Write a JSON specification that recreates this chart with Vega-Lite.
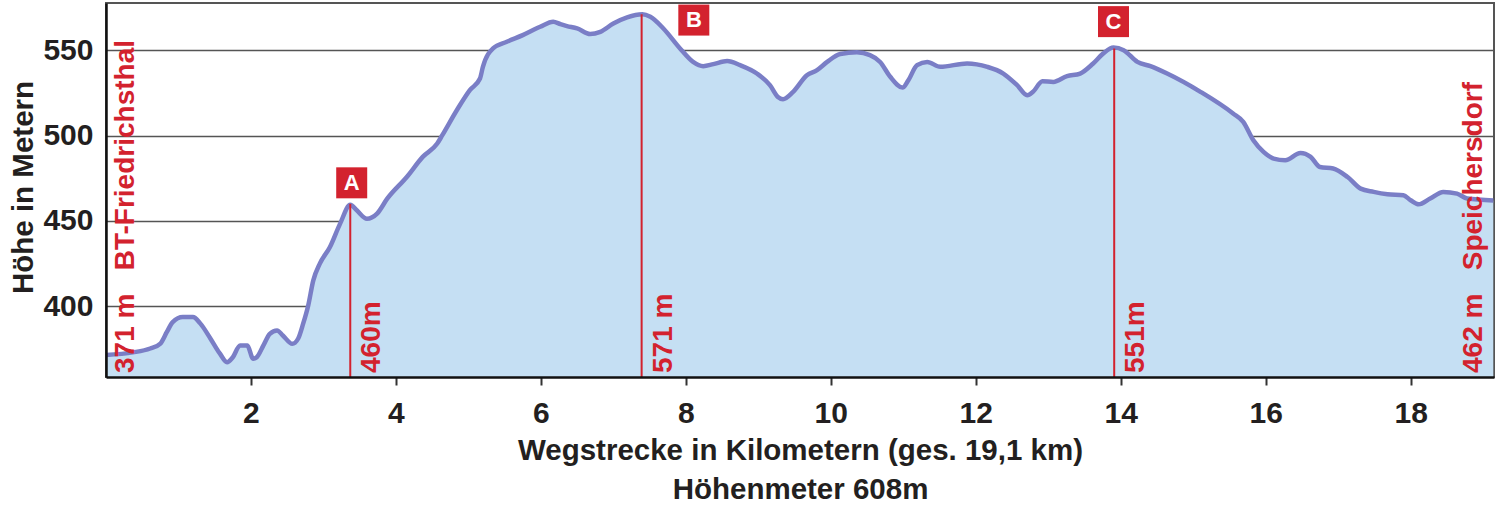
{
  "$schema": "https://vega.github.io/schema/vega-lite/v6.json",
  "width": 1388,
  "height": 374,
  "autosize": {"type": "none"},
  "padding": {"left": 106, "top": 3, "right": 6, "bottom": 129},
  "background": "white",
  "config": {
    "font": "Liberation Sans, Arial, sans-serif",
    "view": {"stroke": "#555555", "strokeWidth": 2}
  },
  "datasets": {
    "profile": [
      {"km": 0, "elev": 371.5}, {"km": 0.37, "elev": 373}, {"km": 0.61, "elev": 375.3}, {"km": 0.75, "elev": 378.2},
      {"km": 0.84, "elev": 385}, {"km": 0.92, "elev": 390.7}, {"km": 1.06, "elev": 393.7}, {"km": 1.2, "elev": 393.7},
      {"km": 1.3, "elev": 390}, {"km": 1.44, "elev": 381.2}, {"km": 1.57, "elev": 372.4}, {"km": 1.67, "elev": 367.3},
      {"km": 1.75, "elev": 370.2}, {"km": 1.85, "elev": 377.1}, {"km": 1.95, "elev": 377}, {"km": 2.03, "elev": 369.3},
      {"km": 2.08, "elev": 370.2}, {"km": 2.17, "elev": 377}, {"km": 2.26, "elev": 383.9}, {"km": 2.36, "elev": 385.9},
      {"km": 2.44, "elev": 382.9}, {"km": 2.57, "elev": 378}, {"km": 2.65, "elev": 381}, {"km": 2.72, "elev": 389.8},
      {"km": 2.79, "elev": 400.5}, {"km": 2.86, "elev": 415.2}, {"km": 2.95, "elev": 425}, {"km": 3.09, "elev": 434.7},
      {"km": 3.23, "elev": 448.4}, {"km": 3.37, "elev": 459.5}, {"km": 3.46, "elev": 456.2}, {"km": 3.6, "elev": 451.3},
      {"km": 3.74, "elev": 454.3}, {"km": 3.88, "elev": 463}, {"km": 4.15, "elev": 475.7}, {"km": 4.37, "elev": 487.5},
      {"km": 4.57, "elev": 495.3}, {"km": 4.64, "elev": 500.2}, {"km": 4.84, "elev": 514.8}, {"km": 5.02, "elev": 526.6},
      {"km": 5.16, "elev": 533.4}, {"km": 5.2, "elev": 540.2}, {"km": 5.34, "elev": 551}, {"km": 5.53, "elev": 554.9},
      {"km": 5.75, "elev": 558.8}, {"km": 5.99, "elev": 563.7}, {"km": 6.17, "elev": 566.6}, {"km": 6.27, "elev": 565.2},
      {"km": 6.36, "elev": 564.1}, {"km": 6.5, "elev": 562.7}, {"km": 6.68, "elev": 559.4}, {"km": 6.82, "elev": 560.7},
      {"km": 7.0, "elev": 565.6}, {"km": 7.19, "elev": 569.2}, {"km": 7.4, "elev": 571}, {"km": 7.51, "elev": 569.5},
      {"km": 7.69, "elev": 562.7}, {"km": 7.92, "elev": 551}, {"km": 8.1, "elev": 543.1}, {"km": 8.24, "elev": 540.6},
      {"km": 8.38, "elev": 541.8}, {"km": 8.57, "elev": 543.6}, {"km": 8.75, "elev": 541.2}, {"km": 8.98, "elev": 536.3},
      {"km": 9.16, "elev": 529.5}, {"km": 9.27, "elev": 522.6}, {"km": 9.34, "elev": 521.3}, {"km": 9.48, "elev": 525.6},
      {"km": 9.67, "elev": 535.3}, {"km": 9.81, "elev": 538.3}, {"km": 9.95, "elev": 543.1}, {"km": 10.13, "elev": 547.7},
      {"km": 10.36, "elev": 548.7}, {"km": 10.54, "elev": 547.1}, {"km": 10.68, "elev": 543.1}, {"km": 10.82, "elev": 534.4},
      {"km": 10.99, "elev": 528.1}, {"km": 11.07, "elev": 532.4}, {"km": 11.19, "elev": 541.2}, {"km": 11.33, "elev": 543.1},
      {"km": 11.51, "elev": 540.2}, {"km": 11.88, "elev": 542.2}, {"km": 12.16, "elev": 540.2}, {"km": 12.38, "elev": 536.3},
      {"km": 12.57, "elev": 529.5}, {"km": 12.71, "elev": 523.6}, {"km": 12.79, "elev": 525.6}, {"km": 12.92, "elev": 531.8},
      {"km": 13.07, "elev": 531.4}, {"km": 13.26, "elev": 534.8}, {"km": 13.44, "elev": 536.3}, {"km": 13.62, "elev": 542.2},
      {"km": 13.76, "elev": 548.1}, {"km": 13.9, "elev": 551.5}, {"km": 14.04, "elev": 550}, {"km": 14.23, "elev": 543.1},
      {"km": 14.41, "elev": 540.6}, {"km": 14.64, "elev": 536.3}, {"km": 15.1, "elev": 525.6}, {"km": 15.55, "elev": 512.9},
      {"km": 15.69, "elev": 508}, {"km": 15.83, "elev": 497.2}, {"km": 15.97, "elev": 490.4}, {"km": 16.11, "elev": 486.5},
      {"km": 16.27, "elev": 485.5}, {"km": 16.48, "elev": 489.8}, {"km": 16.62, "elev": 487.5}, {"km": 16.75, "elev": 481.6},
      {"km": 16.93, "elev": 480.7}, {"km": 17.13, "elev": 475.7}, {"km": 17.31, "elev": 468.9}, {"km": 17.49, "elev": 467},
      {"km": 17.68, "elev": 465.6}, {"km": 17.9, "elev": 465}, {"km": 18.0, "elev": 462.1}, {"km": 18.11, "elev": 459.7},
      {"km": 18.27, "elev": 463.1}, {"km": 18.45, "elev": 467}, {"km": 18.64, "elev": 466}, {"km": 18.78, "elev": 463.1},
      {"km": 19.14, "elev": 462}
    ],
    "markers": [
      {"km": 3.37, "elev": 460, "label": "460m", "letter": "A", "boxKm": 3.39, "boxElev": 472.3},
      {"km": 7.39, "elev": 571, "label": "571 m", "letter": "B", "boxKm": 8.11, "boxElev": 567.6},
      {"km": 13.91, "elev": 551, "label": "551m", "letter": "C", "boxKm": 13.9, "boxElev": 566.7}
    ],
    "ends": [
      {"km": 0, "label": "371 m\u00a0\u00a0\u00a0BT-Friedrichsthal", "side": "start"},
      {"km": 19.15, "label": "462 m\u00a0\u00a0\u00a0Speichersdorf", "side": "end"}
    ]
  },
  "resolve": {"axis": {"y": "independent"}},
  "layer": [
    {
      "data": {"name": "profile"},
      "mark": {"type": "area", "color": "#c5dff3", "interpolate": "monotone", "opacity": 1},
      "encoding": {
        "x": {
          "field": "km", "type": "quantitative",
          "scale": {"domain": [0, 19.15], "nice": false, "zero": false},
          "axis": {
            "values": [2, 4, 6, 8, 10, 12, 14, 16, 18],
            "format": "d",
            "grid": false, "zindex": 1,
            "domainColor": "#111111", "domainWidth": 2.5,
            "tickColor": "#333333", "tickWidth": 2, "tickSize": 8,
            "labelFontSize": 30, "labelFontWeight": "bold", "labelColor": "#231f20", "labelPadding": 13,
            "title": ["Wegstrecke in Kilometern (ges. 19,1 km)", "Höhenmeter 608m"],
            "titleFontSize": 29.5, "titleFontWeight": "bold", "titleColor": "#231f20",
            "titleLineHeight": 39, "titleY": 59, "titleBaseline": "top"
          }
        },
        "y": {
          "field": "elev", "type": "quantitative",
          "scale": {"domain": [358.6, 577.6], "nice": false, "zero": false},
          "axis": {
            "orient": "left",
            "values": [400, 450, 500, 550],
            "grid": true, "gridColor": "#555555", "gridWidth": 1.5, "gridOpacity": 1,
            "domain": false, "ticks": false, "labels": false, "title": null, "zindex": 0
          }
        },
        "y2": {"datum": 358.6}
      }
    },
    {
      "data": {"name": "profile"},
      "mark": {"type": "line", "color": "#7a7ec6", "strokeWidth": 4.5, "interpolate": "monotone"},
      "encoding": {
        "x": {"field": "km", "type": "quantitative"},
        "y": {
          "field": "elev", "type": "quantitative",
          "axis": {
            "orient": "left",
            "values": [400, 450, 500, 550],
            "grid": false, "ticks": false, "zindex": 1,
            "domainColor": "#111111", "domainWidth": 2.5,
            "labelFontSize": 30, "labelFontWeight": "bold", "labelColor": "#231f20", "labelPadding": 13,
            "title": "Höhe in Metern",
            "titleFontSize": 29.5, "titleFontWeight": "bold", "titleColor": "#231f20",
            "titleAngle": 270, "titleAlign": "center", "titleBaseline": "alphabetic",
            "titleX": -74, "titleY": 184
          }
        }
      }
    },
    {
      "data": {"name": "markers"},
      "mark": {"type": "rule", "color": "#d3222e", "strokeWidth": 2},
      "encoding": {
        "x": {"field": "km", "type": "quantitative"},
        "y": {"field": "elev", "type": "quantitative", "axis": null},
        "y2": {"datum": 358.6}
      }
    },
    {
      "data": {"name": "markers"},
      "mark": {"type": "text", "color": "#d3222e", "fontSize": 28, "fontWeight": "bold", "angle": 270, "align": "left", "baseline": "top", "dx": 4, "dy": 8},
      "encoding": {
        "x": {"field": "km", "type": "quantitative"},
        "y": {"datum": 358.6, "type": "quantitative", "axis": null},
        "text": {"field": "label"}
      }
    },
    {
      "data": {"name": "ends"},
      "transform": [{"filter": "datum.side === 'start'"}],
      "mark": {"type": "text", "color": "#d3222e", "fontSize": 28, "fontWeight": "bold", "angle": 270, "align": "left", "baseline": "top", "dx": 4, "dy": 6},
      "encoding": {
        "x": {"field": "km", "type": "quantitative"},
        "y": {"datum": 358.6, "type": "quantitative", "axis": null},
        "text": {"field": "label"}
      }
    },
    {
      "data": {"name": "ends"},
      "transform": [{"filter": "datum.side === 'end'"}],
      "mark": {"type": "text", "color": "#d3222e", "fontSize": 28, "fontWeight": "bold", "angle": 270, "align": "left", "baseline": "top", "dx": 4, "dy": -34},
      "encoding": {
        "x": {"field": "km", "type": "quantitative"},
        "y": {"datum": 358.6, "type": "quantitative", "axis": null},
        "text": {"field": "label"}
      }
    },
    {
      "data": {"name": "markers"},
      "mark": {"type": "point", "shape": "square", "filled": true, "color": "#d3222e", "size": 961, "opacity": 1},
      "encoding": {
        "x": {"field": "boxKm", "type": "quantitative"},
        "y": {"field": "boxElev", "type": "quantitative", "axis": null}
      }
    },
    {
      "data": {"name": "markers"},
      "mark": {"type": "text", "color": "white", "fontSize": 22, "fontWeight": "bold", "align": "center", "baseline": "middle"},
      "encoding": {
        "x": {"field": "boxKm", "type": "quantitative"},
        "y": {"field": "boxElev", "type": "quantitative", "axis": null},
        "text": {"field": "letter"}
      }
    }
  ]
}
